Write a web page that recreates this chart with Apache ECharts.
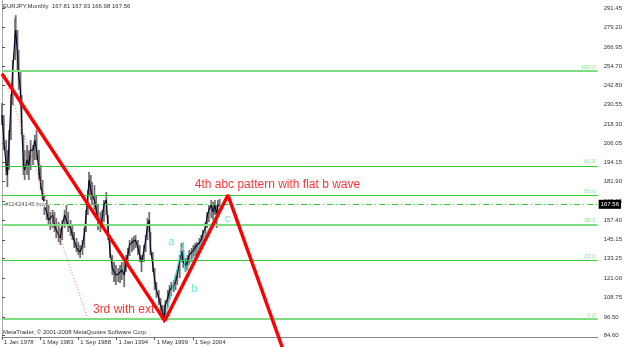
<!DOCTYPE html>
<html><head><meta charset="utf-8">
<script src="https://cdn.jsdelivr.net/npm/echarts@6/dist/echarts.min.js"></script>
<style>html,body{margin:0;padding:0;background:#fff}#c{width:625px;height:347px}</style>
</head><body><div id="c"></div>
<script>
// ---- data ----
const headerText = "EURJPY,Monthly  167.81 167.93 166.98 167.56";
const footerText = "MetaTrader, \u00a9 2001-2008 MetaQuotes Software Corp.";
const priceDates = ["1978-01","1978-04","1978-08","1978-10","1979-01","1979-04","1979-07","1979-11","1979-12","1980-03","1980-05","1980-08","1980-10","1981-01","1981-03","1981-07","1981-10","1982-01","1982-05","1982-08","1982-11","1983-03","1983-06","1983-09","1983-12","1984-04","1984-07","1984-10","1985-02","1985-05","1985-08","1985-12","1986-03","1986-06","1986-10","1987-01","1987-04","1987-08","1987-11","1988-02","1988-06","1988-09","1988-12","1989-04","1989-07","1989-10","1990-01","1990-03","1990-06","1990-08","1990-12","1991-03","1991-06","1991-10","1992-01","1992-04","1992-08","1992-11","1993-02","1993-06","1993-09","1993-12","1994-04","1994-07","1994-10","1995-02","1995-05","1995-08","1995-11","1996-03","1996-06","1996-09","1997-01","1997-04","1997-07","1997-11","1998-02","1998-05","1998-08","1998-10","1999-02","1999-05","1999-08","1999-12","2000-03","2000-06","2000-09","2000-11","2001-03","2001-06","2001-09","2002-01","2002-04","2002-07","2002-11","2003-02","2003-05","2003-09","2003-12","2004-03","2004-07","2004-10","2005-01","2005-04","2005-08","2005-11","2006-02","2006-06","2006-09","2006-12","2007-04","2007-07","2007-10","2008-01","2008-03","2008-06"];
const priceHigh = [231.5,223.9,208.1,201.8,214.4,236.5,258.6,285.1,287.0,277.6,264.9,252.3,236.5,211.3,201.8,205.0,201.8,208.1,205.0,211.3,214.4,201.8,192.3,182.9,173.4,170.3,167.1,162.7,164.0,162.7,158.9,156.4,152.6,157.6,164.0,167.1,162.7,157.6,154.5,150.1,146.3,143.7,141.9,145.0,152.6,164.0,176.6,187.9,186.0,181.6,179.7,173.4,167.1,162.7,164.0,170.3,175.3,160.8,148.2,135.5,131.1,129.2,127.3,129.2,131.1,131.1,135.5,140.0,145.0,146.3,147.5,148.2,145.0,141.9,135.5,141.9,148.2,158.9,162.7,150.1,137.4,127.3,118.5,113.4,108.4,104.0,104.0,107.1,113.4,116.6,118.5,119.8,122.9,126.1,135.5,143.1,138.7,133.6,135.5,138.7,140.0,141.9,143.1,143.7,146.3,148.2,151.3,156.4,162.7,167.1,170.3,169.0,170.3,167.1,170.3,170.9];
const priceLow = [217.6,201.8,186.0,178.5,189.2,208.1,230.2,258.6,268.1,252.3,239.7,230.2,211.3,186.0,182.9,186.0,182.9,189.2,192.3,195.5,195.5,182.9,176.6,170.3,160.8,157.6,154.5,151.3,152.6,150.1,146.3,143.7,141.9,145.0,152.6,154.5,150.1,147.5,145.0,140.0,137.4,135.5,133.6,135.5,140.0,150.1,160.8,173.4,170.3,167.1,164.0,158.9,151.3,150.1,152.6,156.4,160.8,145.0,133.6,122.9,118.5,116.6,118.5,117.9,119.8,115.3,124.8,129.2,134.9,137.4,138.7,140.0,135.5,131.1,124.8,131.1,137.4,145.0,150.1,135.5,124.8,113.4,108.4,104.0,99.6,95.8,92.6,95.8,102.1,107.1,109.7,112.2,113.4,116.6,121.0,131.1,127.3,124.8,126.1,129.2,131.1,133.6,134.9,134.9,137.4,140.0,143.7,146.3,152.6,156.4,158.9,157.6,160.8,152.6,160.8,165.8];
const priceClose = [223.9,208.1,192.3,186.0,208.1,230.2,252.3,274.4,277.6,261.8,249.2,239.7,217.6,192.3,189.2,195.5,192.3,201.8,201.8,208.1,201.8,189.2,179.7,173.4,167.1,162.7,157.6,156.4,160.8,154.5,151.3,148.2,146.3,154.5,160.8,157.6,154.5,152.6,148.2,145.0,140.0,138.7,137.4,141.9,148.2,160.8,173.4,182.9,176.6,173.4,170.3,164.0,157.6,154.5,158.9,167.1,170.3,151.3,138.7,127.3,124.8,122.9,123.5,122.9,126.1,122.9,131.1,135.5,141.9,143.7,142.5,145.0,140.0,135.5,131.1,138.7,145.0,154.5,157.6,140.0,129.2,119.8,113.4,108.4,104.0,99.6,95.8,104.0,108.4,113.4,114.7,116.6,118.5,122.9,132.4,138.7,131.1,129.2,131.1,135.5,137.4,138.7,140.6,140.0,143.1,145.0,149.4,152.6,160.1,164.0,167.1,162.7,167.1,160.8,167.1,167.6];

const yTickValues = [291.45,279.20,266.95,254.70,242.80,230.55,218.30,206.05,194.15,181.90,169.65,157.40,145.15,133.25,121.00,108.75,96.50,84.60];
const xTickDates = ["1978-01","1983-05","1988-09","1994-01","1999-05","2004-09"];
const xTickLabels = ["1 Jan 1978","1 May 1983","1 Sep 1988","1 Jan 1994","1 May 1999","1 Sep 2004"];

const fibLow = 95.1, fibHigh = 251.7;
const fibLevels = [0, 23.6, 38.2, 50.0, 61.8, 100.0];
const fibHeavy = [true, false, true, false, false, true];

const buyLevel = 167.6, buyText = "#11424145 buy";
const lastPrice = 167.56;

const redDates = ["1978-01","2000-10","2009-08","2017-11"];
const redValues = [250.0, 94.0, 173.4, 68.9];
const pinkDates = ["1978-11","1989-12"];
const pinkValues = [240.9, 96.4];
const cyanDates = ["2000-11","2003-05","2003-08","2009-04"];
const cyanValues = [95.8, 143.7, 124.8, 171.5];

const annoTexts = ["a","b","c","4th abc pattern with flat b wave","3rd with ext"];
const annoDates = ["2001-09","2004-12","2009-07","2016-07","1995-01"];
const annoValues = [143.7, 114.1, 158.3, 179.7, 100.9];
const annoColors = ["#40e0d0","#40e0d0","#40e0d0","#ff0000","#ff0000"];

// ---- helpers ----
function mIdx(s){ const p=s.split('-'); return (+p[0]-1978)*12 + (+p[1]-1); }
const xTickMonths = xTickDates.map(mIdx);

const barData = priceDates.map((d,i)=>[mIdx(d), priceHigh[i], priceLow[i]]);
const closeData = priceDates.map((d,i)=>[mIdx(d), priceClose[i]]);
const pairs = (ds, vs) => ds.map((d,i)=>[mIdx(d), vs[i]]);

const FONT = 'Liberation Sans, Arial, sans-serif';
const fibLines = fibLevels.map((lv,i)=>({
  yAxis: fibLow + (fibHigh-fibLow)*lv/100,
  lineStyle: fibHeavy[i] ? {color:'#80dc80', width:2, type:'solid'} : {color:'#2ecc2e', width:1, type:'solid'},
  label: {show:true, position:'insideEndTop', formatter: lv.toFixed(1), color:'#90e890', fontSize:6, fontFamily:FONT, distance:[2,1]}
}));

const chart = echarts.init(document.getElementById('c'), null, {renderer:'canvas'});
chart.setOption({
  animation:false,
  backgroundColor:'#ffffff',
  title:{ text: headerText, left:3, top:3, padding:0, textStyle:{fontSize:6, fontWeight:'normal', color:'#333', fontFamily:FONT}},
  graphic:[
    {type:'text', left:3, top:329, style:{text: footerText, fontSize:6, fill:'#333', fontFamily:FONT}}
  ],
  grid:{left:2, right:22, top:1, bottom:10},
  xAxis:{type:'value', min:0, max:999,
    axisLine:{show:true, onZero:false, lineStyle:{color:'#888', width:1}},
    splitLine:{show:false},
    axisTick:{show:true, customValues:xTickMonths, length:3, lineStyle:{color:'#555'}},
    axisLabel:{show:true, customValues:xTickMonths, align:'left', margin:2, fontSize:6, color:'#333', fontFamily:FONT, padding:[0,0,0,2],
      formatter:(v)=>{ const i=xTickMonths.indexOf(Math.round(v)); return i>=0?xTickLabels[i]:''; }}
  },
  yAxis:[{type:'value', position:'right', min:83.8, max:295.9, scale:true,
    axisLine:{show:true, lineStyle:{color:'#666', width:1}},
    splitLine:{show:false},
    axisTick:{show:true, customValues:yTickValues, length:3, lineStyle:{color:'#555'}},
    axisLabel:{show:true, customValues:yTickValues, margin:6, fontSize:6, color:'#333', fontFamily:FONT, formatter:(v)=>v.toFixed(2)}
  },{type:'value', position:'left', min:83.8, max:295.9,
    axisLine:{show:true, lineStyle:{color:'#aaa', width:1}}, axisTick:{show:false}, axisLabel:{show:false}, splitLine:{show:false}}],
  series:[
    {type:'line', data:[], symbol:'none', silent:true,
      markLine:{silent:true, symbol:'none', data: fibLines.concat([
        {yAxis: buyLevel, lineStyle:{color:'#2ecc2e', width:1, type:[6,3,1,3]},
          label:{show:true, position:'insideStart', formatter: buyText, color:'#555', fontSize:6, fontFamily:FONT, backgroundColor:'#fff', distance:[3,0]}}
      ])}, z:1},
    {type:'line', data:[], symbol:'none', silent:true, z:20,
      markLine:{silent:true, symbol:'none', data:[
        {yAxis: lastPrice, lineStyle:{color:'rgba(0,0,0,0)', width:0},
          label:{show:true, position:'end', formatter: lastPrice.toFixed(2), color:'#fff', backgroundColor:'#000', padding:[2,2,1,2], fontSize:6, fontFamily:FONT, distance:1}}
      ]}},
    {type:'custom', data: barData, z:3, silent:true,
      renderItem:(params, api)=>{
        const p1=api.coord([api.value(0), api.value(1)]), p2=api.coord([api.value(0), api.value(2)]);
        return {type:'line', shape:{x1:p1[0], y1:p1[1], x2:p2[0], y2:p2[1]}, style:{stroke:'#707070', lineWidth:1.8}};
      }},
    {type:'line', data: closeData, symbol:'none', lineStyle:{color:'#0a0a28', width:1.2}, z:4},
    {type:'line', data: pairs(pinkDates,pinkValues), symbol:'none', lineStyle:{color:'#ff6a6a', width:1, type:[1,2]}, z:5},
    {type:'line', data: pairs(cyanDates,cyanValues), symbol:'none', lineStyle:{color:'#40e0d0', width:1}, z:6},
    {type:'line', data: pairs(redDates,redValues), symbol:'none', clip:false, lineStyle:{color:'#ff0000', width:3.4}, z:7},
    {type:'scatter', symbolSize:0, z:8, silent:true,
      data: annoTexts.map((t,i)=>({value:[mIdx(annoDates[i]), annoValues[i]],
        label:{show:true, position:'inside', formatter:t, color:annoColors[i], fontSize: i<3?11:12, fontFamily:FONT}}))}
  ]
});
</script></body></html>
